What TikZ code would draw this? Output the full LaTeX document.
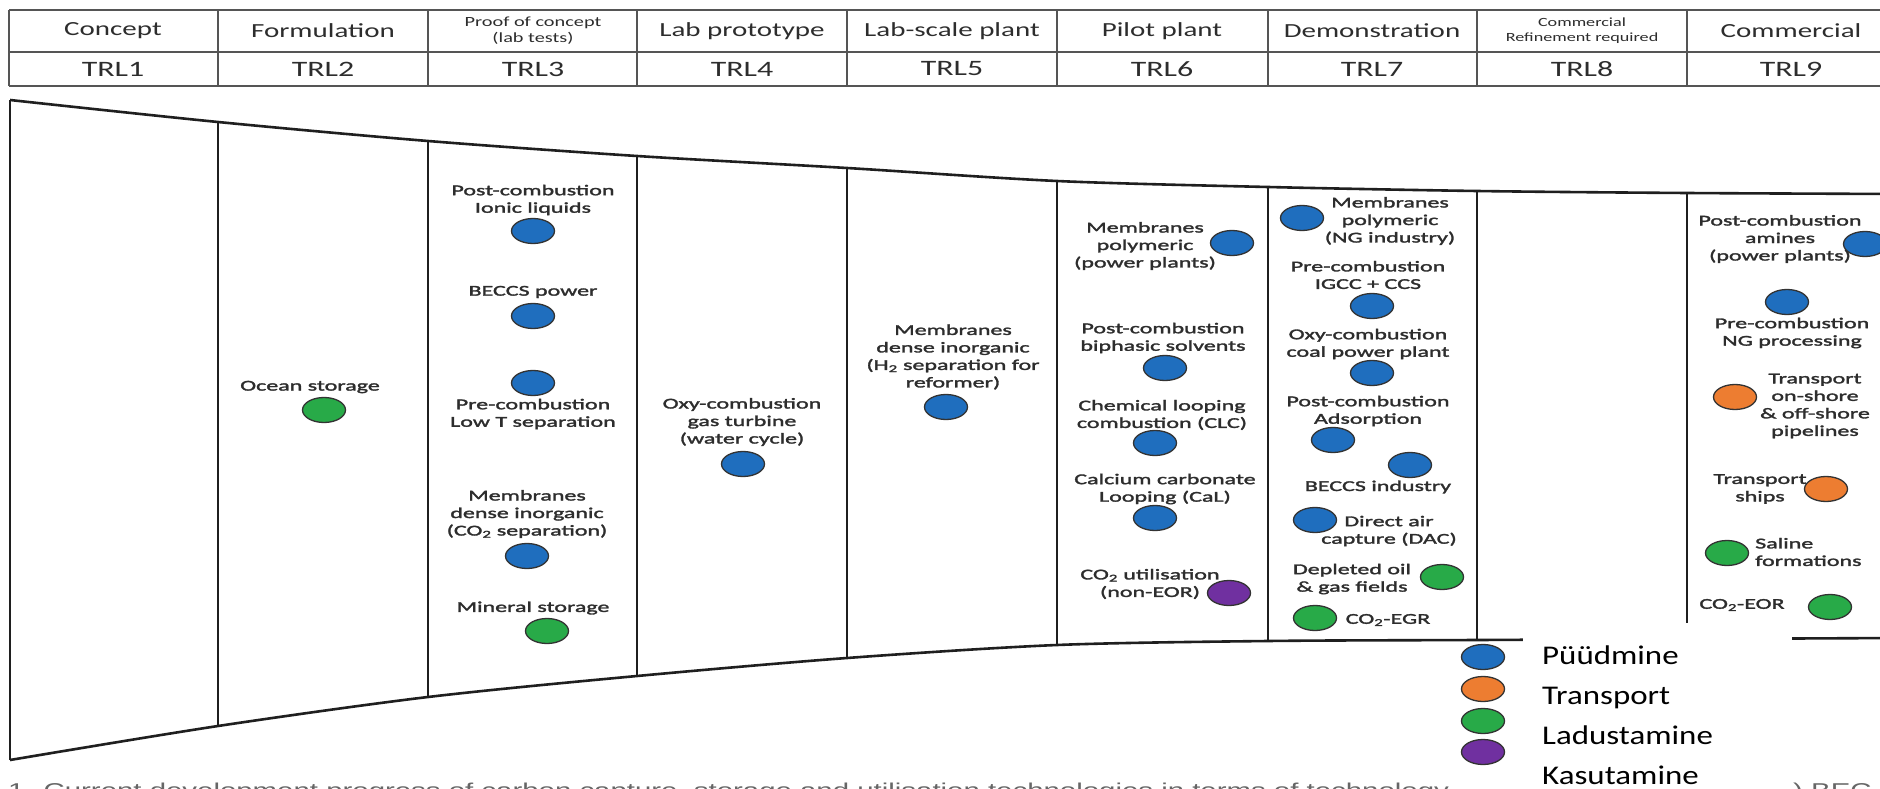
\documentclass[tikz,border=0pt]{standalone}
\usepackage{fontspec}
\setmainfont{Carlito}
\newfontfamily\hdrfont[FakeStretch=1.45]{Carlito}
\newfontfamily\cellfont[FakeStretch=1.6,FakeBold=2]{Carlito}
\newfontfamily\legfont[FakeStretch=1.22]{Carlito}
\newfontfamily\capfont[FakeStretch=1.47]{Liberation Sans}
\usetikzlibrary{shapes.geometric,positioning,calc}

\definecolor{capblue}{RGB}{31,110,190}
\definecolor{traorange}{RGB}{237,125,49}
\definecolor{stogreen}{RGB}{40,170,72}
\definecolor{utipurple}{RGB}{112,48,160}
\definecolor{hdrline}{RGB}{85,85,85}
\definecolor{txtgray}{RGB}{45,45,45}

\tikzset{
  hdr/.style={font=\hdrfont\fontsize{20}{22}\selectfont, text=txtgray, align=center, inner sep=0pt},
  hdrsmall/.style={hdr, font=\hdrfont\fontsize{14}{16}\selectfont},
  hdrtiny/.style={hdr, font=\hdrfont\fontsize{12.5}{15}\selectfont},
  trl/.style={hdr, font=\hdrfont\fontsize{22}{24}\selectfont},
  item/.style={font=\cellfont\fontsize{15}{17.5}\selectfont, text=txtgray, align=center, inner sep=0pt},
  techdot/.style={ellipse, draw=black!80, line width=1.3pt, fill=#1, minimum width=43pt, minimum height=25pt, inner sep=0pt},
  funnel/.style={line width=2.6pt, draw=black!88},
  legtext/.style={font=\legfont\fontsize{27}{30}\selectfont, text=black, inner sep=0pt, anchor=base west},
  capt/.style={font=\capfont\fontsize{20}{22}\selectfont, text=black!60, inner sep=0pt}
}

\begin{document}
\begin{tikzpicture}[x=1pt,y=-1pt]

  \useasboundingbox (0,0) rectangle (1880,789);
  \clip (0,0) rectangle (1880,789);
  \fill[white] (0,0) rectangle (1880,789);

  % header table
  \draw[hdrline, line width=1.8pt] (9,10) -- (1900,10) (9,52) -- (1900,52) (9,86) -- (1900,86);
  \foreach \x in {9,218,428,637,847,1057,1268,1477,1687}{
    \draw[hdrline, line width=1.8pt] (\x,10) -- (\x,86);
  }
  \node[hdr] (h1) at (113,31) {Concept};
  \node[hdr] (h2) at (323,31) {Formulation};
  \node[hdrsmall] (h3) at (533,31) {Proof of concept\\(lab tests)};
  \node[hdr] (h4) at (742,31) {Lab prototype};
  \node[hdr] (h5) at (952,31) {Lab-scale plant};
  \node[hdr] (h6) at (1162,31) {Pilot plant};
  \node[hdr] (h7) at (1372,31) {Demonstration};
  \node[hdrtiny] (h8) at (1582,31) {Commercial\\Refinement required};
  \node[hdr] (h9) at (1791,31) {Commercial};
  \foreach \i/\x in {1/113,2/323,3/533,4/742,5/952,6/1162,7/1372,8/1582,9/1791}{
    \node[trl] (trl\i) at (\x,69) {TRL\i};
  }

  % funnel outline
  \foreach \i/\x/\yt/\yb in {0/10/100/760,1/218/122/726,2/428/141/697,3/637/156/676,4/847/168/658,
                             5/1057/181/645,6/1268/187/641,7/1477/191/640,8/1687/193/639,9/1900/194/638}{
    \coordinate (t\i) at (\x,\yt);
    \coordinate (b\i) at (\x,\yb);
  }
  \draw[funnel] plot[smooth] coordinates {(t0) (t1) (t2) (t3) (t4) (t5) (t6) (t7) (t8) (t9)};
  \draw[funnel] plot[smooth] coordinates {(b0) (b1) (b2) (b3) (b4) (b5) (b6) (b7) (b8) (b9)};
  \foreach \i in {0,...,8}{
    \draw[funnel] (t\i) -- (b\i);
  }

  % TRL2
  \node[item] (ocean) at (310,387) {Ocean storage};
  \node[techdot=stogreen] (oceandot) at (324,410) {};

  % TRL3
  \node[item] (ionic) at (533,200) {Post-combustion\\Ionic liquids};
  \node[techdot=capblue] (ionicdot) at (533,231) {};
  \node[item] (beccsp) at (533,292) {BECCS power};
  \node[techdot=capblue] (beccspdot) at (533,316) {};
  \node[techdot=capblue] (lowtdot) at (533,383) {};
  \node[item] (lowt) at (533,414) {Pre-combustion\\Low T separation};
  \node[item] (memco) at (527,514) {Membranes\\dense inorganic\\(CO\textsubscript{2} separation)};
  \node[techdot=capblue] (memcodot) at (527,556) {};
  \node[item] (mineral) at (533,608) {Mineral storage};
  \node[techdot=stogreen] (mineraldot) at (547,631) {};

  % TRL4
  \node[item] (oxygt) at (742,422) {Oxy-combustion\\gas turbine\\(water cycle)};
  \node[techdot=capblue] (oxygtdot) at (743,464) {};

  % TRL5
  \node[item] (memh) at (953,357) {Membranes\\dense inorganic\\(H\textsubscript{2} separation for\\reformer)};
  \node[techdot=capblue] (memhdot) at (946,407) {};

  % TRL6
  \node[item] (mempp) at (1145,246) {Membranes\\polymeric\\(power plants)};
  \node[techdot=capblue] (memppdot) at (1232,243) {};
  \node[item] (biph) at (1163,338) {Post-combustion\\biphasic solvents};
  \node[techdot=capblue] (biphdot) at (1165,368) {};
  \node[item] (clc) at (1162,415) {Chemical looping\\combustion (CLC)};
  \node[techdot=capblue] (clcdot) at (1155,443) {};
  \node[item] (cal) at (1165,489) {Calcium carbonate\\Looping (CaL)};
  \node[techdot=capblue] (caldot) at (1155,518) {};
  \node[item] (util) at (1150,584) {CO\textsubscript{2} utilisation\\(non-EOR)};
  \node[techdot=utipurple] (utildot) at (1229,593) {};

  % TRL7
  \node[techdot=capblue] (memngdot) at (1302,218) {};
  \node[item] (memng) at (1390,221) {Membranes\\polymeric\\(NG industry)};
  \node[item] (igcc) at (1368,275) {Pre-combustion\\IGCC + CCS};
  \node[techdot=capblue] (igccdot) at (1372,306) {};
  \node[item] (oxycoal) at (1368,344) {Oxy-combustion\\coal power plant};
  \node[techdot=capblue] (oxycoaldot) at (1372,373) {};
  \node[item] (adsorb) at (1368,411) {Post-combustion\\Adsorption};
  \node[techdot=capblue] (adsorbdot) at (1333,440) {};
  \node[techdot=capblue] (beccsidot) at (1410,465) {};
  \node[item] (beccsi) at (1378,487) {BECCS industry};
  \node[techdot=capblue] (dacdot) at (1315,520) {};
  \node[item] (dac) at (1389,531) {Direct air\\capture (DAC)};
  \node[item] (depl) at (1352,579) {Depleted oil\\\& gas fields};
  \node[techdot=stogreen] (depldot) at (1442,577) {};
  \node[techdot=stogreen] (egrdot) at (1315,618) {};
  \node[item] (egr) at (1388,620) {CO\textsubscript{2}-EGR};

  % TRL9
  \node[item] (amines) at (1780,239) {Post-combustion\\amines\\(power plants)};
  \node[techdot=capblue] (aminesdot) at (1865,244) {};
  \node[techdot=capblue] (ngprocdot) at (1787,302) {};
  \node[item] (ngproc) at (1792,333) {Pre-combustion\\NG processing};
  \node[techdot=traorange] (pipedot) at (1735,397) {};
  \node[item] (pipe) at (1815,406) {Transport\\on-shore\\\& off-shore\\pipelines};
  \node[item] (ships) at (1760,489) {Transport\\ships};
  \node[techdot=traorange] (shipsdot) at (1826,489) {};
  \node[techdot=stogreen] (salinedot) at (1727,553) {};
  \node[item, align=left, anchor=west] (saline) at (1755,552) {Saline\\formations};
  \node[item] (eor) at (1742,605) {CO\textsubscript{2}-EOR};
  \node[techdot=stogreen] (eordot) at (1830,607) {};

  % caption (cut at the bottom)
  \node[capt, anchor=base west] (caption) at (8,797) {1. Current development progress of carbon capture, storage and utilisation technologies in terms of technology};
  \node[capt, anchor=base west] (captail) at (1793,797) {) BEC};

  % legend
  \fill[white] (1523,623) rectangle (1792,795);
  \node[techdot=capblue] (legcap) at (1483,657) {};
  \node[techdot=traorange] (legtra) at (1483,689) {};
  \node[techdot=stogreen] (legsto) at (1483,721) {};
  \node[techdot=utipurple] (leguti) at (1483,752) {};
  \node[legtext] (legcaptxt) at (1542,664) {Püüdmine};
  \node[legtext] (legtratxt) at (1542,704) {Transport};
  \node[legtext] (legstotxt) at (1542,744) {Ladustamine};
  \node[legtext] (legutitxt) at (1542,784) {Kasutamine};

\end{tikzpicture}
\end{document}
